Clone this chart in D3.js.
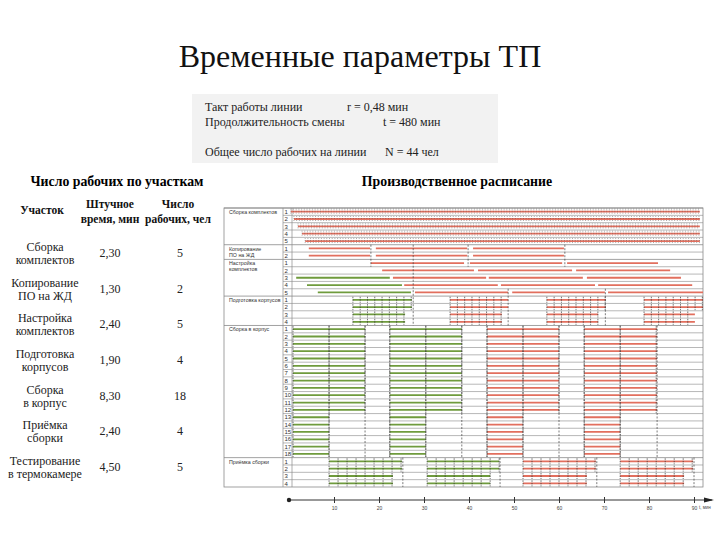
<!DOCTYPE html>
<html>
<head>
<meta charset="utf-8">
<script src="https://cdn.jsdelivr.net/npm/d3@7/dist/d3.min.js"></script>
<style>
body{margin:0;background:#fff;}
svg text{font-family:"Liberation Serif","Times New Roman",serif;}
svg .sans text, svg text.sans{font-family:"Liberation Sans",Arial,sans-serif;}
</style>
</head>
<body>
<script>
// ---- data ----
var title = "Временные параметры ТП";
var infoLabels = ["Такт работы линии", "Продолжительность смены", "Общее число рабочих на линии"];
var infoValues = ["r = 0,48 мин", "t = 480 мин", "N = 44 чел"];

var tableHeaders = [["Участок"], ["Штучное", "время, мин"], ["Число", "рабочих, чел"]];
var tableNames = [["Сборка", "комплектов"], ["Копирование", "ПО на ЖД"], ["Настройка", "комплектов"],
  ["Подготовка", "корпусов"], ["Сборка", "в корпус"], ["Приёмка", "сборки"], ["Тестирование", "в термокамере"]];
var pieceTimes = [2.30, 1.30, 2.40, 1.90, 8.30, 2.40, 4.50];
var workers = [5, 2, 5, 4, 18, 4, 5];

var ganttNames = [["Сборка комплектов"], ["Копирование", "ПО на ЖД"], ["Настройка", "комплектов"],
  ["Подготовка корпусов"], ["Сборка в корпус"], ["Приёмка сборки"]];

// bars: one array per worker row, [start, end, colour] in minutes
var kitBars = [
  [[0.4, 91.3, "r"]], [[1.1, 91.3, "r"]], [[2.0, 91.3, "r"]], [[2.9, 91.3, "r"]], [[3.6, 91.3, "r"]]
];
var copyBars = [
  [[4.4, 18.0, "r"], [19.3, 39.6, "r"], [40.9, 61.1, "r"]],
  [[4.4, 18.0, "r"], [19.3, 39.6, "r"], [40.9, 61.1, "r"]]
];
var tuneBars = [
  [[18.2, 38.9, "r"], [40.2, 60.7, "r"], [61.8, 82.0, "r"]],
  [[20.7, 41.1, "r"], [42.0, 62.9, "r"], [63.8, 84.7, "r"]],
  [[1.6, 22.4, "g"], [23.1, 43.8, "r"], [44.4, 65.3, "r"], [66.2, 87.1, "r"]],
  [[4.0, 25.1, "g"], [25.6, 46.4, "r"], [47.1, 68.0, "r"], [68.7, 89.6, "r"]],
  [[6.4, 27.1, "g"], [28.0, 48.7, "r"], [49.6, 70.2, "r"], [70.9, 92.0, "r"]]
];
var caseBars = [
  [[14.2, 27.3, "g"], [35.8, 48.7, "r"], [57.3, 70.4, "r"], [78.9, 92.0, "r"]],
  [[14.2, 27.3, "g"], [35.8, 48.7, "r"], [57.3, 70.4, "r"], [78.9, 92.0, "r"]],
  [[14.2, 25.8, "g"], [35.8, 47.3, "r"], [57.3, 68.7, "r"], [78.9, 90.2, "r"]],
  [[14.2, 25.8, "g"], [35.8, 47.3, "r"], [57.3, 68.7, "r"], [78.9, 90.2, "r"]]
];
var assemblyBars = [
  [[0.9, 16.9, "g"], [22.4, 38.4, "g"], [44.0, 60.0, "r"], [65.6, 81.8, "r"]],
  [[0.9, 16.9, "g"], [22.4, 38.4, "g"], [44.0, 60.0, "r"], [65.6, 81.8, "r"]],
  [[0.9, 16.9, "g"], [22.4, 38.4, "g"], [44.0, 60.0, "r"], [65.6, 81.8, "r"]],
  [[0.9, 16.9, "g"], [22.4, 38.4, "g"], [44.0, 60.0, "r"], [65.6, 81.8, "r"]],
  [[0.9, 16.9, "g"], [22.4, 38.4, "g"], [44.0, 60.0, "r"], [65.6, 81.8, "r"]],
  [[0.9, 16.9, "g"], [22.4, 38.4, "g"], [44.0, 60.0, "r"], [65.6, 81.8, "r"]],
  [[0.9, 16.9, "g"], [22.4, 38.4, "g"], [44.0, 60.0, "r"], [65.6, 81.8, "r"]],
  [[0.9, 16.9, "g"], [22.4, 38.4, "g"], [44.0, 60.0, "r"], [65.6, 81.8, "r"]],
  [[0.9, 16.9, "g"], [22.4, 38.4, "g"], [44.0, 60.0, "r"], [65.6, 81.8, "r"]],
  [[0.9, 16.9, "g"], [22.4, 38.4, "g"], [44.0, 60.0, "r"], [65.6, 81.8, "r"]],
  [[0.9, 16.9, "g"], [22.4, 38.4, "g"], [44.0, 60.0, "r"], [65.6, 81.8, "r"]],
  [[0.9, 16.9, "g"], [22.4, 38.4, "g"], [44.0, 60.0, "r"], [65.6, 81.8, "r"]],
  [[0.9, 8.9, "g"], [22.4, 30.4, "g"], [44.0, 52.0, "r"], [65.6, 73.6, "r"]],
  [[0.9, 8.9, "g"], [22.4, 30.4, "g"], [44.0, 52.0, "r"], [65.6, 73.6, "r"]],
  [[0.9, 8.9, "g"], [22.4, 30.4, "g"], [44.0, 52.0, "r"], [65.6, 73.6, "r"]],
  [[0.9, 8.9, "g"], [22.4, 30.4, "g"], [44.0, 52.0, "r"], [65.6, 73.6, "r"]],
  [[0.9, 8.9, "g"], [22.4, 30.4, "g"], [44.0, 52.0, "r"], [65.6, 73.6, "r"]],
  [[0.9, 8.9, "g"], [22.4, 30.4, "g"], [44.0, 52.0, "r"], [65.6, 73.6, "r"]]
];
var acceptBars = [
  [[8.9, 25.1, "g"], [30.7, 46.7, "g"], [52.0, 68.2, "r"], [73.6, 89.8, "r"]],
  [[8.9, 25.1, "g"], [30.7, 46.7, "g"], [52.0, 68.2, "r"], [73.6, 89.8, "r"]],
  [[8.9, 23.1, "g"], [30.7, 44.7, "g"], [52.0, 66.2, "r"], [73.6, 87.8, "r"]],
  [[8.9, 23.1, "g"], [30.7, 44.7, "g"], [52.0, 66.2, "r"], [73.6, 87.8, "r"]]
];
var sectionBars = [kitBars, copyBars, tuneBars, caseBars, assemblyBars, acceptBars];
var pieceMarks = [0.6, 0, 0, 1.62, 8.0, 2.0]; // spacing of the piece marks on each bar, min

// dashed verticals: [minute, first row, last row] (rows counted over the whole chart)
var dashLines = [
  [18.2, 5, 7], [39.8, 5, 7], [61.3, 5, 7], [27.6, 5, 15],
  [48.7, 11, 15], [70.3, 11, 15],
  [8.9, 16, 33], [16.9, 16, 33], [22.4, 16, 33], [30.4, 16, 33], [38.4, 16, 33], [44.0, 16, 33],
  [52.0, 16, 33], [60.0, 16, 33], [65.6, 16, 33], [73.6, 16, 33], [81.8, 16, 33],
  [25.3, 34, 37], [46.9, 34, 37], [68.4, 34, 37], [90.0, 34, 37]
];
var axisTicks = [10, 20, 30, 40, 50, 60, 70, 80, 90];
var axisLabel = "t, мин";

// ---- drawing ----
var width = 720, height = 540;
var red = "#e26f5e", green = "#6f9b3d";

var svg = d3.select("body").append("svg")
  .attr("width", width)
  .attr("height", height);

svg.append("text")
  .attr("x", 360).attr("y", 67)
  .attr("text-anchor", "middle")
  .attr("font-size", 32)
  .attr("fill", "#111")
  .text(title);

// info box
svg.append("rect")
  .attr("x", 192).attr("y", 94)
  .attr("width", 306).attr("height", 69)
  .attr("fill", "#f2f2f2");
var infoY = [111, 126, 156];
var infoX = [347, 383, 385];
infoLabels.forEach(function(t, i){
  svg.append("text").attr("x", 205).attr("y", infoY[i]).attr("font-size", 12).attr("fill", "#222").text(t);
  svg.append("text").attr("x", infoX[i]).attr("y", infoY[i]).attr("font-size", 12).attr("fill", "#222").text(infoValues[i]);
});

svg.append("text").attr("x", 117).attr("y", 186).attr("text-anchor", "middle")
  .attr("font-size", 13.8).attr("font-weight", "bold").text("Число рабочих по участкам");
svg.append("text").attr("x", 457).attr("y", 186).attr("text-anchor", "middle")
  .attr("font-size", 13.8).attr("font-weight", "bold").text("Производственное расписание");

// left table
var colX = [42, 110, 178];
tableHeaders.forEach(function(h, i){
  var t = svg.append("text").attr("text-anchor", "middle").attr("font-size", 11.5)
    .attr("font-weight", "bold").attr("fill", "#111");
  if (h.length == 1){
    t.append("tspan").attr("x", colX[i]).attr("y", 214).text(h[0]);
  } else {
    t.append("tspan").attr("x", colX[i]).attr("y", 208).text(h[0]);
    t.append("tspan").attr("x", colX[i]).attr("y", 223).text(h[1]);
  }
});

var rowY = d3.scalePoint().domain(d3.range(tableNames.length)).range([253, 467]);
var fmt = function(v){ return d3.format(".2f")(v).replace(".", ","); };
tableNames.forEach(function(n, i){
  var cy = rowY(i);
  var t = svg.append("text").attr("text-anchor", "middle").attr("font-size", 12).attr("fill", "#222");
  t.append("tspan").attr("x", 45).attr("y", cy - 2).text(n[0]);
  t.append("tspan").attr("x", 45).attr("y", cy + 11).text(n[1]);
  svg.append("text").attr("x", colX[1]).attr("y", cy + 4).attr("text-anchor", "middle")
    .attr("font-size", 12).attr("fill", "#222").text(fmt(pieceTimes[i]));
  svg.append("text").attr("x", 180).attr("y", cy + 4).attr("text-anchor", "middle")
    .attr("font-size", 12).attr("fill", "#222").text(workers[i]);
});

// gantt panel
var x = d3.scaleLinear().domain([0, 90]).range([289, 694]);
var rowCounts = workers.slice(0, 6);
var totalRows = d3.sum(rowCounts);
var gTop = 208, gBottom = 487;
var y = d3.scaleLinear().domain([0, totalRows]).range([gTop, gBottom]);
var gLeft = 224, labelEnd = 283, numEnd = 292, gRight = 703;

var g = svg.append("g").attr("class", "sans");

// rows and labels
var rowStart = 0;
rowCounts.forEach(function(n, s){
  for (var r = 0; r < n; r++){
    var idx = rowStart + r;
    if (r > 0){
      g.append("line").attr("x1", labelEnd).attr("x2", gRight)
        .attr("y1", y(idx)).attr("y2", y(idx))
        .attr("stroke", "#9a9a9a").attr("stroke-width", 0.7);
    }
    g.append("text").attr("x", 284.5).attr("y", y(idx + 0.5) + 2.2)
      .attr("font-size", 6).attr("fill", "#333").text(r + 1);
  }
  g.append("line").attr("x1", gLeft).attr("x2", gRight)
    .attr("y1", y(rowStart)).attr("y2", y(rowStart))
    .attr("stroke", "#8a8a8a").attr("stroke-width", 0.8);
  var lab = g.append("text").attr("font-size", 5.3).attr("fill", "#333");
  ganttNames[s].forEach(function(line, k){
    lab.append("tspan").attr("x", 229).attr("y", y(rowStart) + 6 + k * 5.8).text(line);
  });
  rowStart += n;
});
g.append("rect").attr("x", gLeft).attr("y", gTop)
  .attr("width", gRight - gLeft).attr("height", gBottom - gTop)
  .attr("fill", "none").attr("stroke", "#8a8a8a").attr("stroke-width", 0.8);
[labelEnd, numEnd].forEach(function(xx){
  g.append("line").attr("x1", xx).attr("x2", xx).attr("y1", gTop).attr("y2", gBottom)
    .attr("stroke", "#8a8a8a").attr("stroke-width", 0.7);
});

// bars with piece marks
rowStart = 0;
sectionBars.forEach(function(rows, s){
  rows.forEach(function(segs, r){
    var cy = y(rowStart + r + 0.5);
    segs.forEach(function(seg){
      var col = seg[2] == "g" ? green : red;
      g.append("line")
        .attr("x1", x(seg[0])).attr("x2", x(seg[1]))
        .attr("y1", cy).attr("y2", cy)
        .attr("stroke", col).attr("stroke-width", 1.8);
      var step = pieceMarks[s];
      if (step > 0){
        var marks = [];
        for (var m = seg[0]; m <= seg[1] + 0.01; m += step) marks.push(m);
        g.selectAll(null).data(marks).enter().append("line")
          .attr("x1", d => x(d)).attr("x2", d => x(d))
          .attr("y1", cy - 3).attr("y2", cy + 3)
          .attr("stroke", s == 0 ? "#555" : "#333")
          .attr("stroke-width", s == 0 ? 0.5 : 0.7)
          .attr("stroke-dasharray", s == 0 ? "1,1" : "1.5,1");
      }
    });
  });
  rowStart += rowCounts[s];
});

// dashed verticals
g.selectAll(".dash").data(dashLines).enter().append("line")
  .attr("class", "dash")
  .attr("x1", d => x(d[0])).attr("x2", d => x(d[0]))
  .attr("y1", d => y(d[1])).attr("y2", d => y(d[2] + 1))
  .attr("stroke", "#444").attr("stroke-width", 0.7)
  .attr("stroke-dasharray", "2,1.5");

// time axis
var axisY = 500;
var ax = svg.append("g").attr("class", "sans").attr("transform", "translate(0," + axisY + ")");
ax.append("line").attr("x1", x(0)).attr("x2", 712).attr("y1", 0).attr("y2", 0)
  .attr("stroke", "#333").attr("stroke-width", 1);
ax.append("circle").attr("cx", x(0)).attr("cy", 0).attr("r", 2.2).attr("fill", "#222");
ax.append("path").attr("d", "M704,-2.5L714,0L704,2.5Z").attr("fill", "#222");
var axis = d3.axisBottom(x).tickValues(axisTicks).tickSize(3).tickPadding(3);
var axG = ax.append("g").call(axis);
axG.select(".domain").remove();
axG.selectAll(".tick line").attr("y1", -3).attr("stroke", "#333");
axG.selectAll(".tick text").attr("font-size", 5).attr("fill", "#444").attr("font-family", null);
ax.append("text").attr("x", 699).attr("y", 8.5).attr("font-size", 4.5).attr("fill", "#444").text(axisLabel);
</script>
</body>
</html>
